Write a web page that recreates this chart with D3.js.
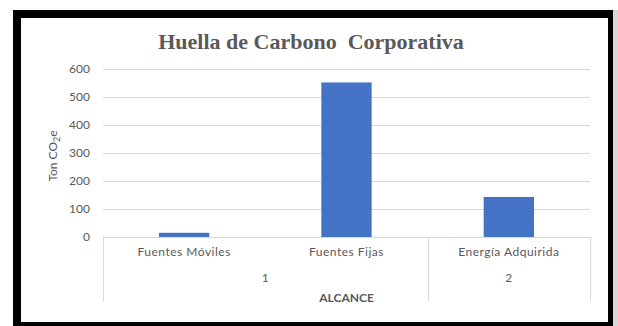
<!DOCTYPE html>
<html>
<head>
<meta charset="utf-8">
<script src="https://cdn.jsdelivr.net/npm/d3@7"></script>
<style>
  html, body { margin: 0; padding: 0; background: #ffffff; }
  svg { display: block; }
</style>
</head>
<body>
<svg id="chart" width="618" height="326"></svg>
<script>
// Emissions by source (Ton CO2-e), grouped by scope
const categories = ["Fuentes Móviles", "Fuentes Fijas", "Energía Adquirida"];
const values = [15, 552, 143];
const scopes = ["1", "1", "2"];
const yTicks = [0, 100, 200, 300, 400, 500, 600];

const W = 618, H = 326;
const plot = { left: 103, right: 590, top: 69, bottom: 237 };
const textColor = "#595959";
const gridColor = "#d9d9d9";
const barColor = "#4472c4";
const sans = "Lato, 'Open Sans', sans-serif";

const svg = d3.select("#chart");

// Black frame around the chart area
svg.append("rect").attr("x", 13).attr("y", 10).attr("width", 600).attr("height", 316).attr("fill", "#000");
svg.append("rect").attr("x", 21).attr("y", 18).attr("width", 587).attr("height", 304).attr("fill", "#fff");
svg.append("rect").attr("x", 613).attr("y", 10).attr("width", 5).attr("height", 316).attr("fill", "#d8d8d8");

const x = d3.scaleBand()
  .domain(categories)
  .range([plot.left, plot.right])
  .paddingInner(0.69)
  .paddingOuter(0.345);

const y = d3.scaleLinear().domain([0, 600]).range([plot.bottom, plot.top]);

// Title
svg.append("text")
  .attr("x", 311).attr("y", 49)
  .attr("text-anchor", "middle")
  .attr("font-family", "'Liberation Serif', 'Times New Roman', serif")
  .attr("font-weight", "bold")
  .attr("font-size", 22)
  .attr("fill", textColor)
  .style("white-space", "pre")
  .text("Huella de Carbono  Corporativa");

// Gridlines
const grid = svg.append("g")
  .attr("transform", `translate(${plot.left},0)`)
  .call(d3.axisLeft(y).tickValues(yTicks.filter(d => d > 0)).tickSize(-(plot.right - plot.left)).tickFormat(""));
grid.select(".domain").remove();
grid.selectAll(".tick line").attr("stroke", gridColor).attr("stroke-width", 1);

// Y tick labels
const yAxis = svg.append("g")
  .attr("transform", `translate(${plot.left},0)`)
  .call(d3.axisLeft(y).tickValues(yTicks).tickSize(0).tickPadding(13));
yAxis.select(".domain").remove();
yAxis.selectAll("text")
  .attr("font-family", sans).attr("font-size", 12).attr("fill", textColor);

// Y axis title with subscript
const yTitle = svg.append("text")
  .attr("transform", "translate(57,156) rotate(-90)")
  .attr("text-anchor", "middle")
  .attr("font-family", sans).attr("font-size", 12).attr("fill", textColor);
yTitle.append("tspan").text("Ton CO");
yTitle.append("tspan").attr("font-size", 9).attr("dy", 3).text("2");
yTitle.append("tspan").attr("dy", -3).text("e");

// Bars
svg.append("g").selectAll("rect")
  .data(categories)
  .join("rect")
  .attr("x", d => x(d))
  .attr("width", x.bandwidth())
  .attr("y", (d, i) => y(values[i]))
  .attr("height", (d, i) => y(0) - y(values[i]))
  .attr("fill", barColor);

// Category axis line
svg.append("line")
  .attr("x1", plot.left).attr("x2", plot.right)
  .attr("y1", plot.bottom + 0.5).attr("y2", plot.bottom + 0.5)
  .attr("stroke", gridColor);

// Category labels
const xAxis = svg.append("g")
  .attr("transform", `translate(0,${plot.bottom})`)
  .call(d3.axisBottom(x).tickSize(0).tickPadding(10));
xAxis.select(".domain").remove();
xAxis.selectAll("text")
  .attr("font-family", sans).attr("font-size", 12).attr("fill", textColor)
  .attr("letter-spacing", 0.5);

// Scope groups: separators and labels
const step = x.step();
const groupNames = Array.from(new Set(scopes));
const groupInfo = groupNames.map(g => {
  const idx = categories.map((c, i) => i).filter(i => scopes[i] === g);
  const x0 = plot.left + step * idx[0];
  const x1 = plot.left + step * (idx[idx.length - 1] + 1);
  return { name: g, x0, x1 };
});
const bounds = [plot.left].concat(groupInfo.map(g => g.x1));
svg.append("g").selectAll("line")
  .data(bounds)
  .join("line")
  .attr("x1", d => Math.round(d) + 0.5).attr("x2", d => Math.round(d) + 0.5)
  .attr("y1", plot.bottom).attr("y2", 301)
  .attr("stroke", gridColor);

svg.append("g").selectAll("text")
  .data(groupInfo)
  .join("text")
  .attr("x", d => (d.x0 + d.x1) / 2)
  .attr("y", 282)
  .attr("text-anchor", "middle")
  .attr("font-family", sans).attr("font-size", 12).attr("fill", textColor)
  .text(d => d.name);

// X axis title
svg.append("text")
  .attr("x", (plot.left + plot.right) / 2).attr("y", 302)
  .attr("text-anchor", "middle")
  .attr("font-family", sans).attr("font-size", 12).attr("font-weight", "bold")
  .attr("fill", textColor)
  .text("ALCANCE");
</script>
</body>
</html>
